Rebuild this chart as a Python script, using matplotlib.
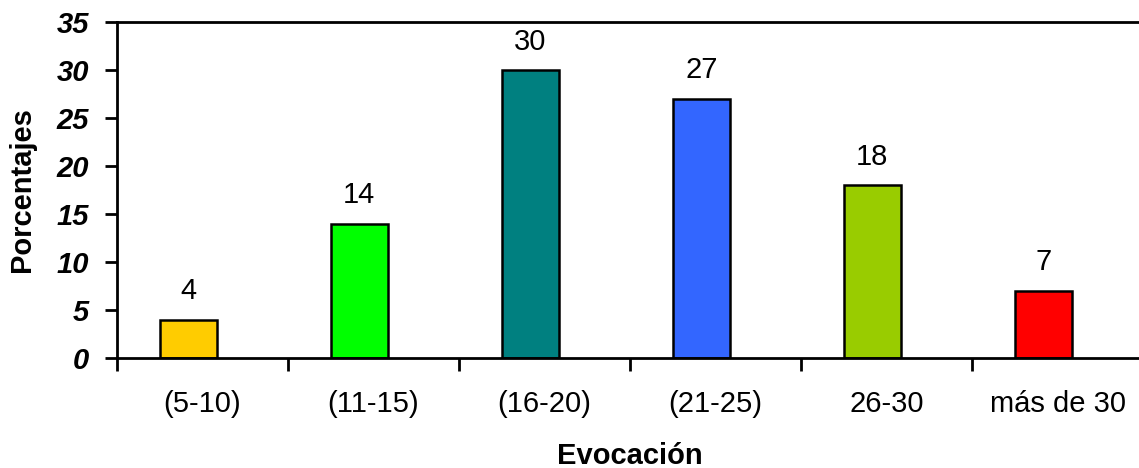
import matplotlib.pyplot as plt
import numpy as np

# datos del gráfico
categorias = ["(5-10)", "(11-15)", "(16-20)", "(21-25)", "26-30", "más de 30"]
porcentajes = [4, 14, 30, 27, 18, 7]
colores = ["#FFCC00", "#00FF00", "#008080", "#3366FF", "#99CC00", "#FF0000"]
yticks = [0, 5, 10, 15, 20, 25, 30, 35]

plt.rcParams['font.family'] = ['Liberation Sans', 'DejaVu Sans']
fs = 21

fig = plt.figure(figsize=(11.39, 4.68), dpi=100)
ax = fig.add_axes([117 / 1139, 110 / 468, 1026 / 1139, 336 / 468])

x = np.arange(len(categorias))
xb = x - 0.083  # las barras están algo corridas a la izquierda
ax.bar(xb, porcentajes, width=0.335, color=colores, edgecolor="black", linewidth=1.8)

for xi, v in zip(xb, porcentajes):
    ax.text(xi, v + 1.5, str(v), ha="center", va="bottom", fontsize=fs)

ax.set_xlim(-0.5, len(categorias) - 0.5)
ax.set_ylim(0, 35)

# ticks del eje x entre categorías
ax.set_xticks(np.arange(len(categorias) + 1) - 0.5)
ax.set_xticklabels([])
ax.set_xticks(x, minor=True)
ax.set_xticklabels(categorias, minor=True, fontsize=fs)
ax.tick_params(axis="x", which="minor", length=0, pad=23)
ax.tick_params(axis="x", which="major", direction="out", length=9, width=2)

ax.set_yticks(yticks)
ax.set_yticklabels([str(t) for t in yticks], fontsize=fs, fontweight="bold", fontstyle="italic")
ax.tick_params(axis="y", direction="out", length=9, width=2, pad=11)

for s in ["left", "bottom", "top"]:
    ax.spines[s].set_linewidth(2)
ax.spines["right"].set_visible(False)

ax.set_ylabel("Porcentajes", fontsize=fs, fontweight="bold", labelpad=15)
ax.set_xlabel("Evocación", fontsize=fs, fontweight="bold", labelpad=17)

fig.savefig("out.png", dpi=100)
